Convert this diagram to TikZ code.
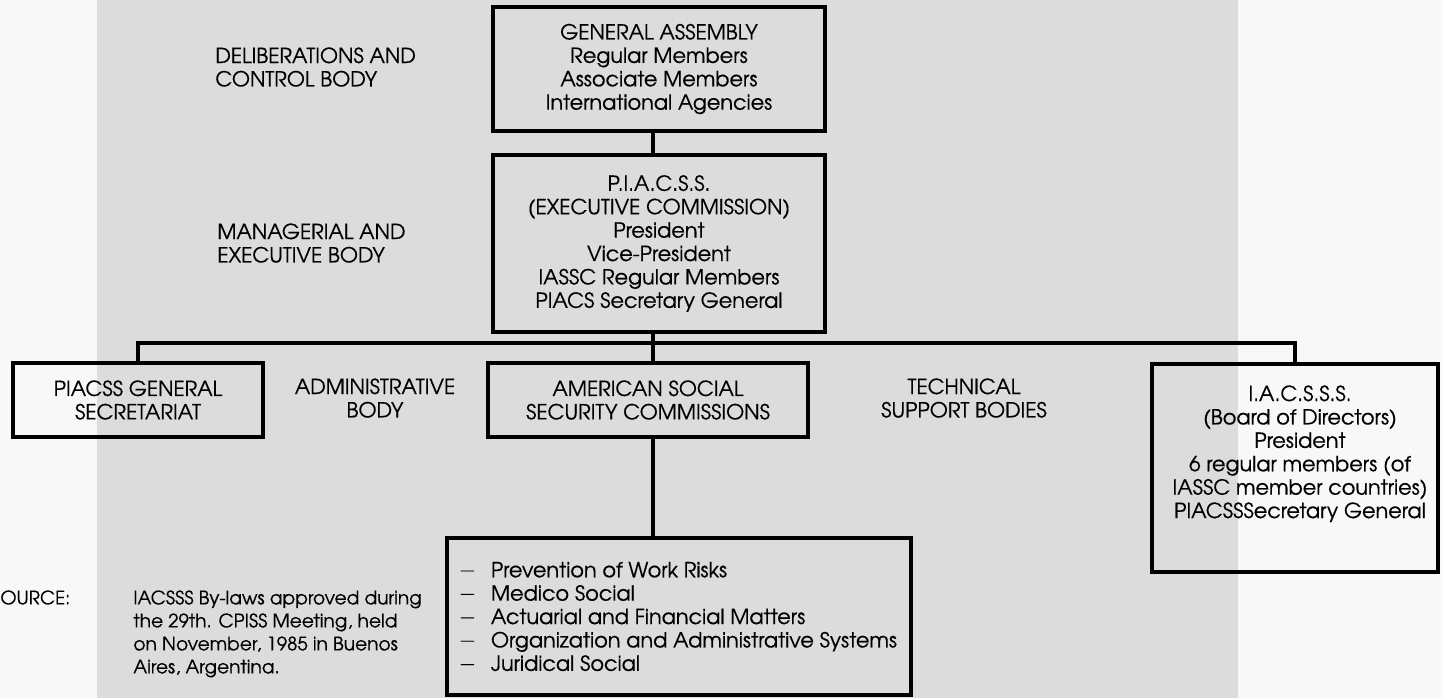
\documentclass[tikz,border=0pt]{standalone}
\usepackage{fontspec}
\setmainfont[FakeBold=0.5]{TeX Gyre Adventor}
\definecolor{paper}{RGB}{220,220,220}
\definecolor{margin}{RGB}{248,248,248}
\newcommand{\listdash}{\makebox[15pt][l]{\raisebox{1.4pt}{\fontsize{6.5}{11.7}\selectfont —}}}
\begin{document}
\begin{tikzpicture}[x=0.5pt,y=-0.5pt,
  box/.style={draw=black,line width=1.7pt,rectangle,inner sep=0pt,line join=miter},
  txt/.style={font=\fontsize{10.4}{11.7}\selectfont,align=center,inner sep=0pt},
  lbl/.style={font=\fontsize{10.4}{11.7}\selectfont,align=left,inner sep=0pt},
  srcstyle/.style={font=\fontsize{9.3}{11.5}\selectfont,align=left,inner sep=0pt},
  link/.style={draw=black,line width=1.7pt,line join=miter}]
\useasboundingbox (0,0) rectangle (1442,698);
\fill[margin] (0,0) rectangle (1442,698);
\fill[paper] (97,0) rectangle (1238,698);

% boxes
\node[box,txt,minimum width=166pt,minimum height=62pt] (ga) at (659,69)
  {GENERAL ASSEMBLY\\Regular Members\\Associate Members\\International Agencies};
\node[box,txt,minimum width=166pt,minimum height=88.5pt] (pi) at (659,243.5)
  {P.I.A.C.S.S.\\(EXECUTIVE COMMISSION)\\President\\Vice-President\\IASSC Regular Members\\PIACS Secretary General};
\node[box,txt,minimum width=125pt,minimum height=37pt] (gs) at (138,400)
  {PIACSS GENERAL\\SECRETARIAT};
\node[box,txt,minimum width=160pt,minimum height=37pt] (as) at (648,400)
  {AMERICAN SOCIAL\\SECURITY COMMISSIONS};
\node[box,minimum width=143pt,minimum height=104pt] (ia) at (1295,468) {};
\node[txt,anchor=north] (iatext) at (1300,385)
  {I.A.C.S.S.S.\\(Board of Directors)\\President\\6 regular members (of\\IASSC member countries)\\PIACSSSecretary General};
\node[box,lbl,minimum width=232pt,minimum height=78.5pt] (ls) at (679,616.5)
  {\listdash Prevention of Work Risks\\
   \listdash Medico Social\\
   \listdash Actuarial and Financial Matters\\
   \listdash Organization and Administrative Systems\\
   \listdash Juridical Social};

% side labels
\node[lbl,anchor=north west] (dcb) at (215,47) {DELIBERATIONS AND\\CONTROL BODY};
\node[lbl,anchor=north west] (meb) at (217,223) {MANAGERIAL AND\\EXECUTIVE BODY};
\node[txt,anchor=north] (adm) at (375,378) {ADMINISTRATIVE\\BODY};
\node[txt,anchor=north] (tsb) at (964,378) {TECHNICAL\\SUPPORT BODIES};
\node[srcstyle,anchor=north west] (srck) at (0,590) {OURCE:};
\node[srcstyle,anchor=north west] (src) at (133,590)
  {IACSSS By-laws approved during\\the 29th. CPISS Meeting, held\\on November, 1985 in Buenos\\Aires, Argentina.};

% connectors
\coordinate (bus) at (653,343);
\draw[link] (ga.south -| bus) -- (pi.north -| bus);
\draw[link] (pi.south -| bus) -- (as.north -| bus);
\draw[link] (gs.north) |- (bus) -| (ia.north);
\draw[link] (as.south -| bus) -- (ls.north -| bus);
\end{tikzpicture}
\end{document}
